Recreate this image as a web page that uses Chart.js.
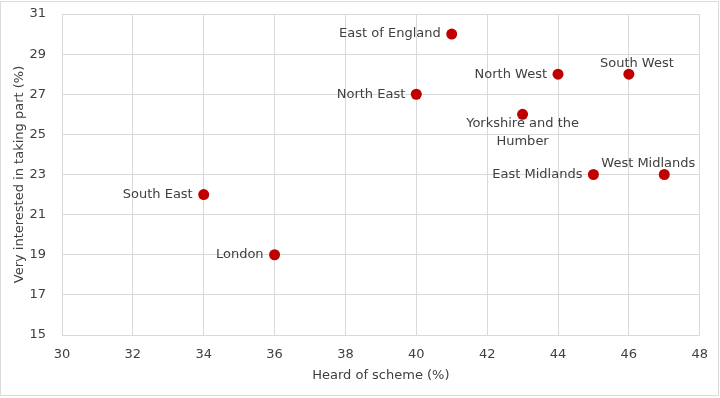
<!DOCTYPE html>
<html>
<head>
<meta charset="utf-8">
<script src="https://cdn.jsdelivr.net/npm/chart.js@4"></script>
<style>
  html, body { margin: 0; padding: 0; background: #fff; }
  #wrap { width: 720px; height: 398px; }
</style>
</head>
<body>
<div id="wrap"><canvas id="regionChart" width="720" height="398"></canvas></div>
<script>
// regions, heard of scheme (%) and very interested (%)
var regions = ["South East", "London", "North East", "East of England", "Yorkshire and the Humber",
  "North West", "South West", "East Midlands", "West Midlands"];
var heardOf = [34, 36, 40, 41, 43, 44, 46, 45, 47];
var interested = [22, 19, 27, 30, 26, 28, 28, 23, 23];

var xTicks = [30, 32, 34, 36, 38, 40, 42, 44, 46, 48];
var yTicks = [15, 17, 19, 21, 23, 25, 27, 29, 31];

var textColour = "#404040";
var fontName = "'DejaVu Sans', sans-serif";

// where each label sits relative to its point
function labelPlace(name) {
  if (name == "South West") return { mode: "above", dx: 8, dy: -11 };
  if (name == "West Midlands") return { mode: "above", dx: -16, dy: -11 };
  if (name == "Yorkshire and the Humber") return { mode: "below", dx: 0, dy: 9 };
  return { mode: "left", dx: -11, dy: 0 };
}

var pointLabels = {
  id: "pointLabels",
  afterDatasetsDraw: function(chart) {
    var ctx = chart.ctx;
    var meta = chart.getDatasetMeta(0);
    ctx.save();
    ctx.font = "13px " + fontName;
    ctx.fillStyle = textColour;
    ctx.textBaseline = "middle";
    meta.data.forEach(function(pt, i) {
      var name = regions[i];
      var p = labelPlace(name);
      if (p.mode == "left") {
        ctx.textAlign = "right";
        ctx.fillText(name, pt.x + p.dx, pt.y + p.dy);
      } else if (p.mode == "above") {
        ctx.textAlign = "center";
        ctx.fillText(name, pt.x + p.dx, pt.y + p.dy);
      } else {
        ctx.textAlign = "center";
        ctx.fillText("Yorkshire and the", pt.x + p.dx, pt.y + p.dy);
        ctx.fillText("Humber", pt.x + p.dx, pt.y + p.dy + 18);
      }
    });
    ctx.restore();
  }
};

var frame = {
  id: "frame",
  afterDraw: function(chart) {
    var ctx = chart.ctx;
    ctx.save();
    ctx.strokeStyle = "#dcdcdc";
    ctx.lineWidth = 1;
    ctx.strokeRect(0.5, 1.5, 718, 394);
    ctx.restore();
  }
};

var points = heardOf.map(function(x, i) { return { x: x, y: interested[i] }; });

var ctx = document.getElementById("regionChart").getContext("2d");
var regionChart = new Chart(ctx, {
  type: "scatter",
  data: {
    datasets: [{
      data: points,
      backgroundColor: "#c00000",
      borderColor: "#c00000",
      borderWidth: 0,
      pointRadius: 5.5,
      pointHoverRadius: 5.5
    }]
  },
  options: {
    responsive: false,
    animation: false,
    layout: { padding: { left: 8, top: 14, right: 19, bottom: 11 } },
    plugins: {
      legend: { display: false },
      tooltip: { enabled: false }
    },
    scales: {
      x: {
        type: "linear",
        min: 30,
        max: 48,
        afterBuildTicks: function(scale) {
          scale.ticks = xTicks.map(function(v) { return { value: v }; });
        },
        afterFit: function(scale) { scale.height = 52; },
        grid: { color: "#d9d9d9", drawTicks: false },
        border: { color: "#d9d9d9" },
        ticks: { color: textColour, font: { family: fontName, size: 13 }, padding: 12 },
        title: {
          display: true,
          text: "Heard of scheme (%)",
          color: textColour,
          font: { family: fontName, size: 13 },
          padding: { top: 2 }
        }
      },
      y: {
        type: "linear",
        min: 15,
        max: 31,
        afterBuildTicks: function(scale) {
          scale.ticks = yTicks.map(function(v) { return { value: v }; });
        },
        afterFit: function(scale) { scale.width = 54; scale.paddingTop = 0; },
        grid: { color: "#d9d9d9", drawTicks: false },
        border: { color: "#d9d9d9" },
        ticks: { color: textColour, font: { family: fontName, size: 13 }, padding: 16 },
        title: {
          display: true,
          text: "Very interested in taking part (%)",
          color: textColour,
          font: { family: fontName, size: 13 },
          padding: { bottom: 0 }
        }
      }
    }
  },
  plugins: [pointLabels, frame]
});
</script>
</body>
</html>
